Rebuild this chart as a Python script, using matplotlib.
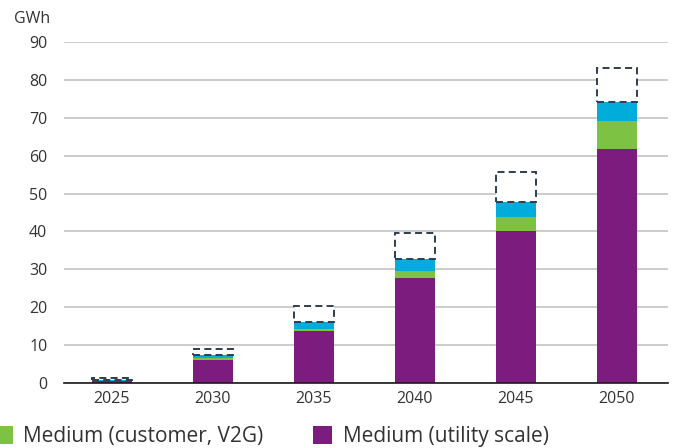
import matplotlib.pyplot as plt
import numpy as np

plt.rcParams['font.family'] = ['Open Sans', 'DejaVu Sans']

years = ['2025', '2030', '2035', '2040', '2045', '2050']
# GWh
utility = [0.45, 6.2, 13.8, 27.8, 40.0, 61.8]
customer = [0.05, 0.3, 0.5, 1.8, 3.8, 7.4]
small = [0.3, 0.8, 1.8, 3.0, 3.9, 5.0]
extra = [0.4, 1.7, 4.2, 6.9, 8.1, 9.0]

purple = '#7b1c7e'
green = '#7dc242'
blue = '#00acd9'
txt = '#333333'

fig = plt.figure(figsize=[6.75, 4.48], dpi=100)
ax = fig.add_axes([64 / 675, 65 / 448, 604 / 675, 341 / 448])

x = np.arange(len(years))
w = 0.39
utility = np.array(utility)
customer = np.array(customer)
small = np.array(small)
extra = np.array(extra)

b1 = ax.bar(x, utility, w, color=purple, zorder=3)
b2 = ax.bar(x, customer, w, bottom=utility, color=green, zorder=3)
b3 = ax.bar(x, small, w, bottom=utility + customer, color=blue, zorder=3)
ax.bar(x, extra, w, bottom=utility + customer + small, facecolor='white',
       edgecolor='#2c3e50', linestyle=(0, (3.6, 2.2)), linewidth=1.4, zorder=3)

ax.set_xlim(-0.475, 5.505)
ax.set_ylim(0, 90)
ax.set_yticks(range(0, 91, 10))
ax.set_xticks(x)
ax.set_xticklabels(years)
ax.yaxis.grid(True, color='#c4c4c4', linewidth=1.2, zorder=0)
ax.set_axisbelow(True)
for s in ['top', 'right', 'left']:
    ax.spines[s].set_visible(False)
ax.spines['bottom'].set_color('#1a1a1a')
ax.spines['bottom'].set_linewidth(1.2)
ax.spines['bottom'].set_zorder(4)
ax.tick_params(length=0, labelsize=11.5, colors=txt)
ax.tick_params(axis='y', pad=12)
ax.tick_params(axis='x', pad=6)

fig.text(14 / 675, 1 - 19 / 448, 'GWh', fontsize=11.5, color=txt, va='center', ha='left')

leg = fig.legend([b2, b1], ['Medium (customer, V2G)', 'Medium (utility scale)'],
                 ncol=2, loc='upper left', bbox_to_anchor=(-6 / 675, 22 / 448),
                 frameon=False, handlelength=0.9, handleheight=0.95,
                 handletextpad=0.5, columnspacing=2.4, borderpad=0, borderaxespad=0,
                 prop={'family': 'Open Sans', 'size': 15})
for t in leg.get_texts():
    t.set_color(txt)

fig.savefig('out.png', dpi=100)
